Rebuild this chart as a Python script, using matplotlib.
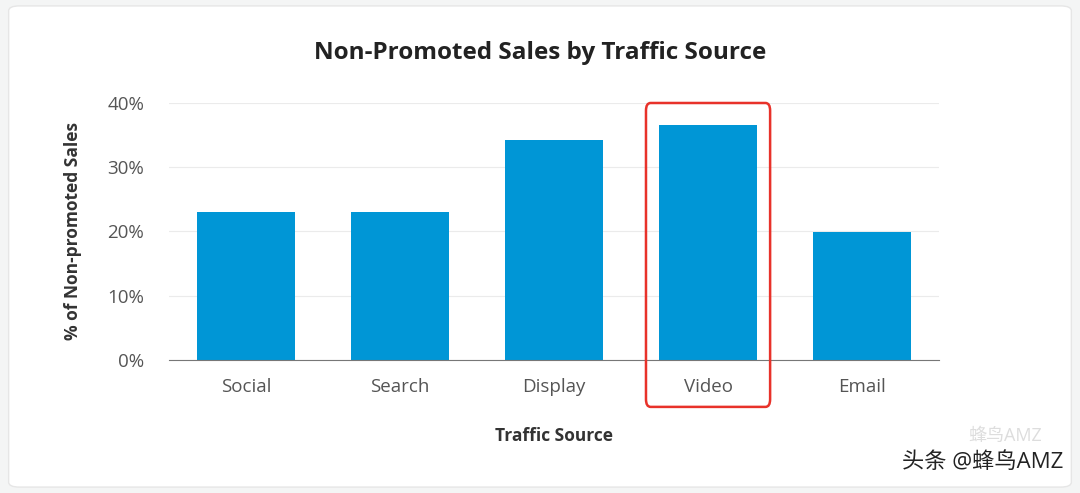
import matplotlib.pyplot as plt
from matplotlib.patches import FancyBboxPatch

plt.rcParams["font.family"] = ["Open Sans", "Noto Sans CJK SC", "DejaVu Sans"]

sources = ["Social", "Search", "Display", "Video", "Email"]
share = [23.0, 23.0, 34.2, 36.6, 19.9]
yticks = [0, 10, 20, 30, 40]

fig = plt.figure(figsize=(10.8, 4.93), dpi=100)
fig.patch.set_facecolor("#f4f5f5")
card = FancyBboxPatch((0.008, 0.012), 0.984, 0.976, boxstyle="round,pad=0,rounding_size=0.01",
                      transform=fig.transFigure, facecolor="white", edgecolor="#e6e6e6", lw=1, zorder=-5)
fig.patches.append(card)
ax = fig.add_axes([0.1565, 0.2698, 0.7130, 0.5213])
ax.patch.set_alpha(0)
ax.bar(range(len(sources)), share, width=0.64, color="#0096d6", zorder=2)
ax.set_xlim(-0.5, len(sources) - 0.5)
ax.set_ylim(0, 40)
ax.set_yticks(yticks)
ax.set_yticklabels([f"{v}%" for v in yticks])
ax.set_xticks(range(len(sources)))
ax.set_xticklabels(sources)
ax.grid(axis="y", color="#ebebeb", lw=0.8, zorder=0)
for s in ["top", "right", "left"]:
    ax.spines[s].set_visible(False)
ax.spines["bottom"].set_color("#777777")
ax.tick_params(axis="both", length=0, labelsize=13.5, colors="#555555")
ax.tick_params(axis="x", pad=13)
ax.tick_params(axis="y", pad=18)
ax.set_xlabel("Traffic Source", fontsize=12.5, fontweight="bold", color="#333333", labelpad=22)
ax.set_ylabel("% of Non-promoted Sales", fontsize=12.5, fontweight="bold", color="#333333", labelpad=18)
fig.text(0.5, 0.892, "Non-Promoted Sales by Traffic Source", ha="center", va="center",
         fontsize=17.5, fontweight="bold", color="#222222")

# highlight box around Video
ax.add_patch(FancyBboxPatch((2.597, -7.3), 0.806, 47.3, boxstyle="round,pad=0,rounding_size=0.03",
                            fill=False, edgecolor="#e8322a", lw=1.8, clip_on=False, zorder=3,
                            mutation_aspect=40))

fig.text(0.985, 0.062, "头条 @蜂鸟AMZ", ha="right", va="center", fontsize=16, color="#222222")
fig.text(0.965, 0.115, "蜂鸟AMZ", ha="right", va="center", fontsize=13, color="#dddddd")

fig.savefig("out.png", dpi=100, facecolor=fig.get_facecolor())
